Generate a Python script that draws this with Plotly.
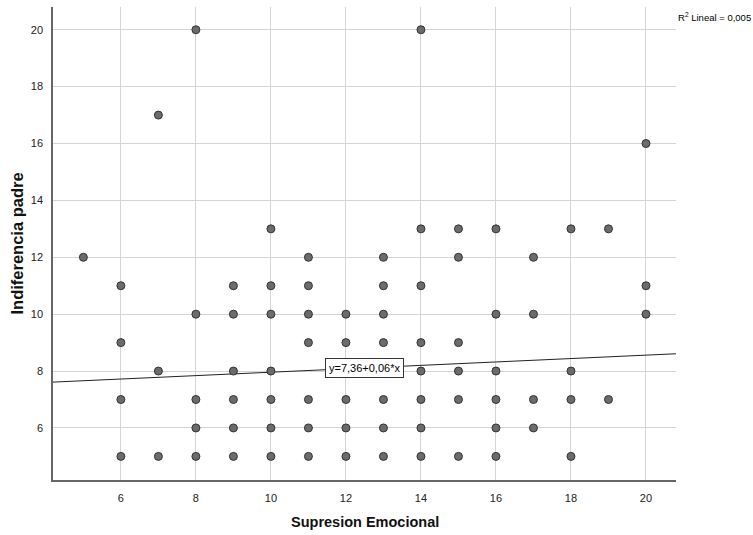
import plotly.graph_objects as go

# Data (x = Supresion Emocional, y = Indiferencia padre)
x_vals = [5,
          6, 6, 6, 6,
          7, 7, 7,
          8, 8, 8, 8, 8,
          9, 9, 9, 9, 9, 9,
          10, 10, 10, 10, 10, 10, 10,
          11, 11, 11, 11, 11, 11, 11,
          12, 12, 12, 12, 12,
          13, 13, 13, 13, 13, 13, 13,
          14, 14, 14, 14, 14, 14, 14, 14,
          15, 15, 15, 15, 15, 15,
          16, 16, 16, 16, 16, 16,
          17, 17, 17, 17,
          18, 18, 18, 18,
          19, 19,
          20, 20, 20]
y_vals = [12,
          11, 9, 7, 5,
          17, 8, 5,
          20, 10, 7, 6, 5,
          11, 10, 8, 7, 6, 5,
          13, 11, 10, 8, 7, 6, 5,
          12, 11, 10, 9, 7, 6, 5,
          10, 9, 7, 6, 5,
          12, 11, 10, 9, 7, 6, 5,
          20, 13, 11, 9, 8, 7, 6, 5,
          13, 12, 9, 8, 7, 5,
          13, 10, 8, 7, 6, 5,
          12, 10, 7, 6,
          13, 8, 7, 5,
          13, 7,
          16, 11, 10]

intercept = 7.36
slope = 0.06
x_range = [4.19, 20.8]
y_range = [4.17, 20.8]
tick_vals = [6, 8, 10, 12, 14, 16, 18, 20]

font_fam = "Liberation Sans, Arial, sans-serif"

fig = go.Figure()

fig.add_trace(go.Scatter(
    x=x_range,
    y=[intercept + slope * v for v in x_range],
    mode="lines",
    line=dict(color="#222222", width=1),
    hoverinfo="skip",
    showlegend=False,
))

fig.add_trace(go.Scatter(
    x=x_vals, y=y_vals,
    mode="markers",
    marker=dict(size=8, color="#6b6b6b", line=dict(color="#333333", width=1)),
    showlegend=False,
))

fig.add_annotation(
    x=12.49, y=8.11, xref="x", yref="y",
    text="y=7,36+0,06*x",
    showarrow=False,
    font=dict(family=font_fam, size=11, color="#000000"),
    bgcolor="#ffffff",
    bordercolor="#333333", borderwidth=1, borderpad=3,
)

fig.add_annotation(
    x=1.0, y=1.0, xref="paper", yref="paper",
    xanchor="left", yanchor="top", xshift=0, yshift=-2,
    text="R<sup>2</sup> Lineal = 0,005",
    showarrow=False,
    font=dict(family=font_fam, size=9.5, color="#000000"),
)

# Axis titles
fig.add_annotation(
    x=0.5, y=-0.0888, xref="paper", yref="paper",
    xanchor="center", yanchor="middle",
    text="<b>Supresion Emocional</b>",
    showarrow=False,
    font=dict(family=font_fam, size=14.5, color="#111111"),
)
fig.add_annotation(
    x=-0.0578, y=0.5, xref="paper", yref="paper",
    xanchor="center", yanchor="middle", textangle=-90,
    text="<b>Indiferencia padre</b>",
    showarrow=False,
    font=dict(family=font_fam, size=16.5, color="#111111"),
)

fig.update_layout(
    width=753, height=535,
    margin=dict(l=53, r=77, t=7, b=55),
    paper_bgcolor="#ffffff",
    plot_bgcolor="#ffffff",
    font=dict(family=font_fam, size=11, color="#222222"),
    xaxis=dict(
        range=x_range, tickvals=tick_vals,
        showgrid=True, gridcolor="#d4d4d4", gridwidth=1,
        zeroline=False, showline=True, linecolor="#666666", linewidth=1.5,
        ticks="", ticklabelstandoff=7, automargin=False,
    ),
    yaxis=dict(
        range=y_range, tickvals=tick_vals,
        showgrid=True, gridcolor="#d4d4d4", gridwidth=1,
        zeroline=False, showline=True, linecolor="#666666", linewidth=1.5,
        ticks="", ticklabelstandoff=6, automargin=False,
    ),
)

fig.write_html("out.html")
